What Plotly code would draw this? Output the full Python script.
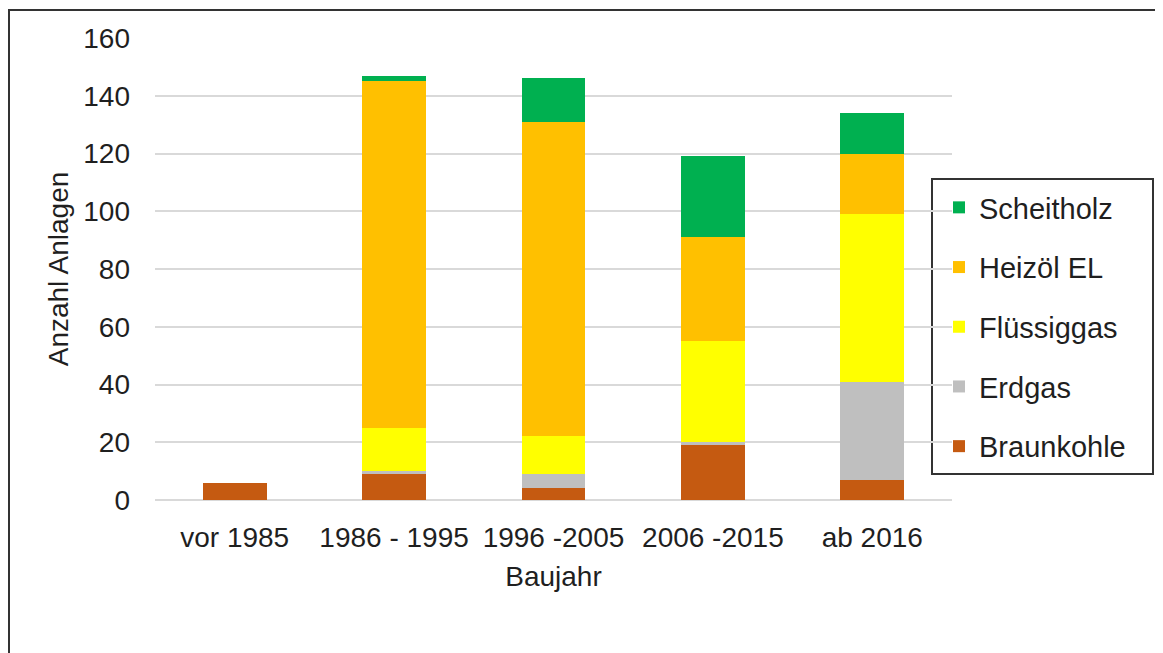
import plotly.graph_objects as go

categories = ["vor 1985", "1986 - 1995", "1996 -2005", "2006 -2015", "ab 2016"]
braunkohle = [6, 9, 4, 19, 7]
erdgas = [0, 1, 5, 1, 34]
fluessiggas = [0, 15, 13, 35, 58]
heizoel = [0, 120, 109, 36, 21]
scheitholz = [0, 2, 15, 28, 14]

series = [
    ("Braunkohle", braunkohle, "#C55A11"),
    ("Erdgas", erdgas, "#BFBFBF"),
    ("Flüssiggas", fluessiggas, "#FFFF00"),
    ("Heizöl EL", heizoel, "#FFC000"),
    ("Scheitholz", scheitholz, "#00B050"),
]

FONT = "Liberation Sans, Arial, sans-serif"
TXT = "#1f1f1f"

fig = go.Figure()
n = len(series)
for i, (name, vals, color) in enumerate(series):
    fig.add_trace(go.Bar(
        x=categories, y=vals, name=name,
        marker=dict(color=color, line=dict(width=0)),
        legendgroup=name,
        legendrank=n - i,
    ))

# page has an 8px body margin; work in page pixels and shift
OFF = 8
W, H = 1163 - OFF, 653 - OFF
L, R, T, B = 155 - OFF, 952 - OFF, 38 - OFF, 500 - OFF
pw, ph = R - L, B - T

def px(x):
    return (x - OFF - L) / pw

def py(y):
    return (B - (y - OFF)) / ph

fig.update_layout(
    width=W, height=H,
    margin=dict(l=L, r=W - R, t=T, b=H - B, pad=0),
    barmode="stack",
    bargap=0.6,
    plot_bgcolor="white",
    paper_bgcolor="white",
    font=dict(family=FONT, size=28, color=TXT),
    xaxis=dict(
        showgrid=False, showline=False, ticks="",
        tickfont=dict(size=28, color=TXT),
        ticklabelstandoff=18,
        title=dict(text="Baujahr", font=dict(size=28, color=TXT), standoff=14),
    ),
    yaxis=dict(
        range=[0, 160], dtick=20,
        showgrid=True, gridcolor="#D9D9D9", gridwidth=1.5,
        zeroline=True, zerolinecolor="#D9D9D9", zerolinewidth=1.5,
        showline=False, ticks="",
        tickfont=dict(size=28, color=TXT),
        ticklabelstandoff=24,
        title=dict(text="Anzahl Anlagen", font=dict(size=28, color=TXT), standoff=6),
    ),
    legend=dict(
        x=px(939), y=py(182), xanchor="left", yanchor="top",
        traceorder="grouped", tracegroupgap=19,
        borderwidth=0,
        bgcolor="rgba(0,0,0,0)",
        font=dict(size=29, color=TXT),
        itemwidth=30,
    ),
    showlegend=True,
)

# legend frame
fig.add_shape(
    type="rect", xref="paper", yref="paper",
    x0=px(932), x1=px(1153), y0=py(179), y1=py(474),
    line=dict(color="#333333", width=2), fillcolor="white", layer="below",
)

# outer chart border (right and bottom edges fall outside the picture)
fig.add_shape(
    type="rect", xref="paper", yref="paper",
    x0=px(9), x1=px(1190), y0=py(10), y1=py(690),
    line=dict(color="#333333", width=2), fillcolor="rgba(0,0,0,0)", layer="above",
)

fig.write_html("out.html")
